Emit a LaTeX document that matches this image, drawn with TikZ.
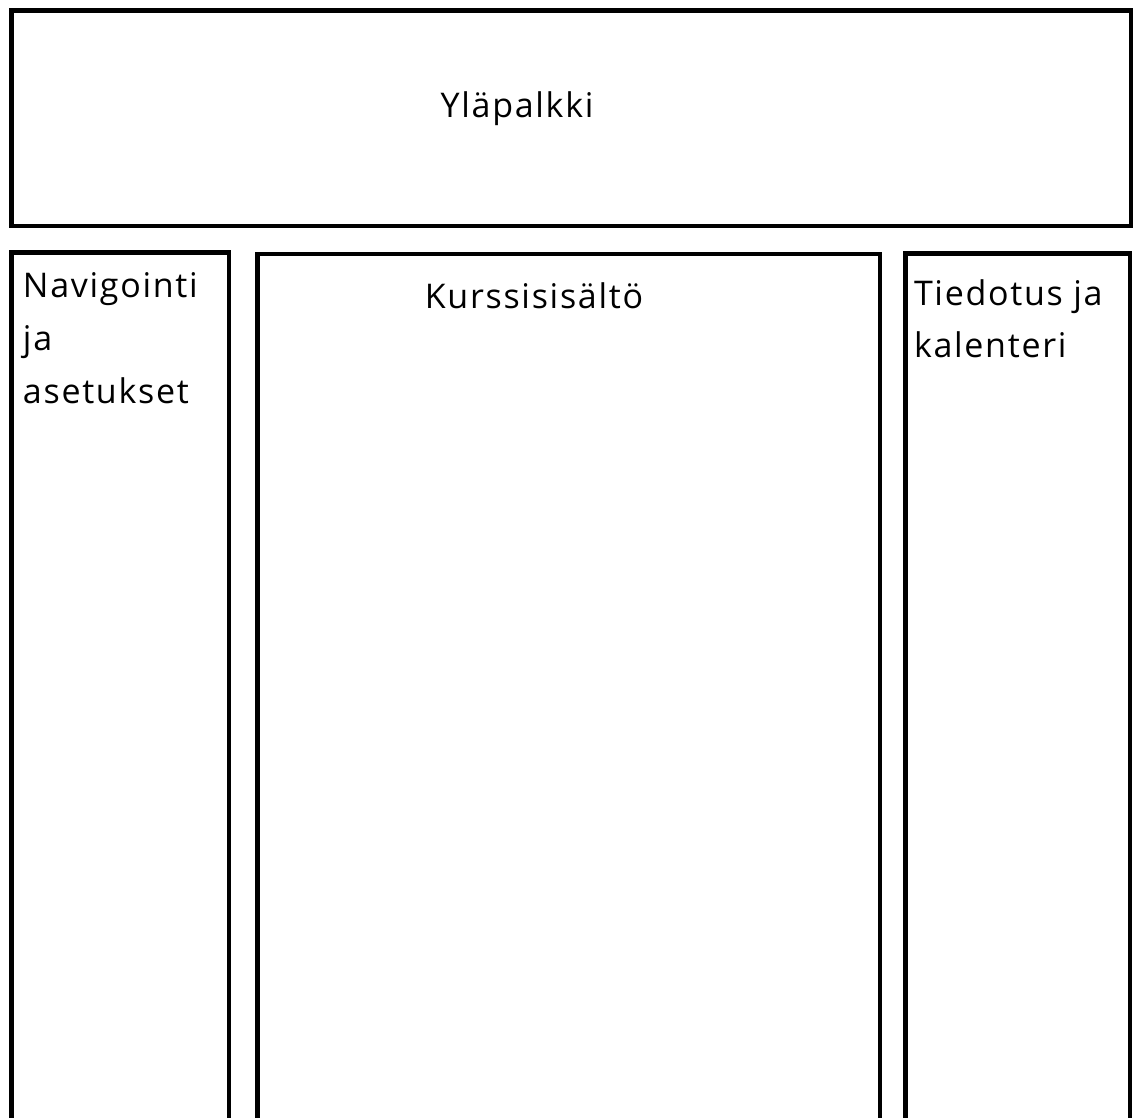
\documentclass[tikz,border=0pt]{standalone}
\usepackage{fontspec}
\setmainfont{Open Sans}[LetterSpace=5]
\begin{document}
\begin{tikzpicture}[x=1pt,y=1pt,
  panel/.style={draw=black,line width=4.5pt,fill=none,inner sep=0pt,outer sep=0pt,anchor=north west},
  lbl/.style={inner sep=0pt,outer sep=0pt,font=\fontsize{34}{53}\selectfont,align=left,text=black}]
\useasboundingbox (0,0) rectangle (1133,-1117);
\clip (0,0) rectangle (1133,-1117);
\node[panel,minimum width=1119.5pt,minimum height=215.5pt] (top) at (11.25,-10.25) {};
\node[panel,minimum width=217.5pt,minimum height=900pt] (nav) at (11.25,-252.25) {};
\node[panel,minimum width=622.5pt,minimum height=900pt] (main) at (257.25,-254) {};
\node[panel,minimum width=224.5pt,minimum height=900pt] (side) at (905.25,-253.5) {};
\node[lbl,anchor=base] (ttop) at (517,-117) {Yläpalkki};
\node[lbl,anchor=base west] (tnav) at (23,-403) {Navigointi\\ja\\asetukset};
\node[lbl,anchor=base] (tmain) at (534,-308) {Kurssisisältö};
\node[lbl,anchor=base west,font=\fontsize{34}{52}\selectfont] (tside) at (914,-357) {Tiedotus ja\\kalenteri};
\end{tikzpicture}
\end{document}
